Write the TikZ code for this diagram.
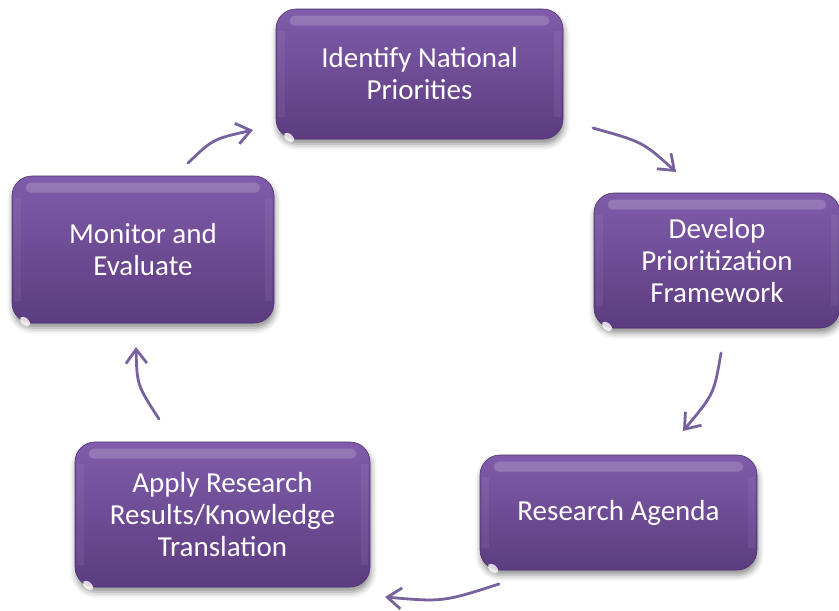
\documentclass[tikz,border=0pt]{standalone}
\usepackage{fontspec}
\setmainfont{Carlito}
\usetikzlibrary{arrows.meta,shadows.blur,calc}
\definecolor{boxtop}{RGB}{128,92,170}
\definecolor{boxbot}{RGB}{92,60,128}
\definecolor{boxedge}{RGB}{80,50,112}
\definecolor{arrowc}{RGB}{120,98,158}
\tikzset{
  pbox/.style={rounded corners=20pt, top color=boxtop, bottom color=boxbot,
    draw=boxedge, line width=0.6pt, text=white, align=center,
    font=\fontsize{29}{32}\selectfont, inner sep=0pt,
    blur shadow={shadow xshift=1pt, shadow yshift=-5pt, shadow blur radius=6pt, shadow opacity=45}},
  cyc/.style={draw=arrowc, line width=2.8pt, line cap=round,
    -{Straight Barb[length=14pt, width=21pt, line width=2.8pt]}},
  gloss/.style={white, opacity=0.18},
  spot/.style={white, opacity=0.8}
}
\newcommand\pbx[6]{%
  \node[pbox, minimum width=#4pt, minimum height=#5pt] (#1) at (#2,#3) {#6};
  \fill[gloss, rounded corners=5pt] ($(#1.north west)+(14pt,-7pt)$) rectangle ($(#1.north east)+(-14pt,-17pt)$);
  \fill[white, opacity=0.06] ($(#1.north west)+(2pt,-22pt)$) rectangle ($(#1.south west)+(9pt,22pt)$);
  \fill[white, opacity=0.06] ($(#1.north east)+(-2pt,-22pt)$) rectangle ($(#1.south east)+(-9pt,22pt)$);
  \fill[spot, rotate around={-40:($(#1.south west)+(9pt,10pt)$)}] ($(#1.south west)+(9pt,10pt)$) ellipse (6pt and 3.5pt);
}
\begin{document}
\begin{tikzpicture}[x=1pt, y=-1pt]
\useasboundingbox (0,0) rectangle (839,611);
\pbx{ident}{419.5}{74}{287}{130}{Identify National\\Priorities}
\pbx{devel}{717}{260.5}{246}{135}{Develop\\Prioritization\\Framework}
\pbx{agenda}{618.5}{512.5}{277}{115}{Research Agenda}
\pbx{apply}{222.5}{514.5}{295}{145}{Apply Research\\Results/Knowledge\\Translation}
\pbx{monitor}{143}{249.5}{262}{147}{Monitor and\\Evaluate}
% arrow end points
\coordinate (a1s) at (188,163); \coordinate (a1e) at (253,130);
\coordinate (a2s) at (593,128); \coordinate (a2e) at (676,172);
\coordinate (a3s) at (721,353); \coordinate (a3e) at (683,431);
\coordinate (a4s) at (499,584); \coordinate (a4e) at (385,597);
\coordinate (a5s) at (159,419); \coordinate (a5e) at (136,347);
\draw[cyc] (a2s) .. controls (643,142) .. (a2e);
\draw[cyc] (a3s) .. controls (714,394) .. (a3e);
\draw[cyc] (a4s) .. controls (443,602) .. (a4e);
\draw[cyc] (a5s) .. controls (137,385) .. (a5e);
\draw[cyc] (a1s) .. controls (213,139) .. (a1e);
\end{tikzpicture}
\end{document}
